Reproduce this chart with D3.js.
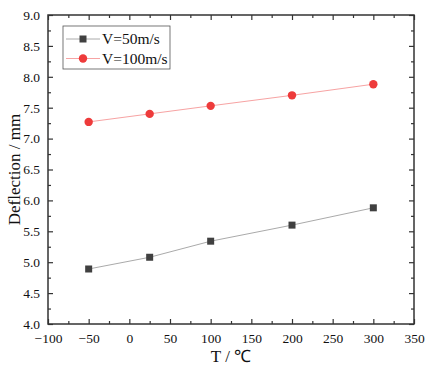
<!DOCTYPE html>
<html><head><meta charset="utf-8">
<script src="https://cdn.jsdelivr.net/npm/d3@7"></script>
<style>body{margin:0;background:#fff}svg{display:block}text{font-family:"Liberation Serif","Times New Roman",serif}</style>
</head><body>
<script>
const temps = [-50, 25, 100, 200, 300];
const v50 = [4.89, 5.08, 5.34, 5.60, 5.88];
const v100 = [7.27, 7.40, 7.53, 7.70, 7.88];
const seriesNames = ["V=50m/s", "V=100m/s"];
const xTicks = [-100, -50, 0, 50, 100, 150, 200, 250, 300, 350];
const yTicks = [4.0, 4.5, 5.0, 5.5, 6.0, 6.5, 7.0, 7.5, 8.0, 8.5, 9.0];

const W = 425, H = 373;
const m = {l: 48, r: 11, t: 15, b: 49};
const svg = d3.select("body").append("svg").attr("width", W).attr("height", H);
const x = d3.scaleLinear().domain([-100, 350]).range([m.l, W - m.r]);
const y = d3.scaleLinear().domain([4, 9]).range([H - m.b, m.t]);
const axCol = "#333";
const serif = '"Liberation Serif","Times New Roman",serif';

const xMinor = d3.range(-75, 350, 50);
const yMinor = d3.range(4.25, 9, 0.5);

function styleAxis(g){
  g.attr("font-family", serif);
  g.selectAll(".domain").remove();
  g.selectAll(".tick line").attr("stroke", axCol).attr("stroke-width", 1.2);
  g.selectAll("text").attr("fill", "#111").style("font-size", "13.5px").style("font-family", serif);
}
// bottom
svg.append("g").attr("transform", `translate(0,${y(4)})`)
  .call(d3.axisBottom(x).tickValues(xTicks).tickSize(-5).tickPadding(9).tickFormat(d3.format("d")))
  .call(styleAxis);
svg.append("g").attr("transform", `translate(0,${y(4)})`)
  .call(d3.axisBottom(x).tickValues(xMinor).tickSize(-3).tickFormat(""))
  .call(styleAxis);
// top
svg.append("g").attr("transform", `translate(0,${y(9)})`)
  .call(d3.axisTop(x).tickValues(xTicks).tickSize(-5).tickFormat(""))
  .call(styleAxis);
svg.append("g").attr("transform", `translate(0,${y(9)})`)
  .call(d3.axisTop(x).tickValues(xMinor).tickSize(-3).tickFormat(""))
  .call(styleAxis);
// left
svg.append("g").attr("transform", `translate(${x(-100)},0)`)
  .call(d3.axisLeft(y).tickValues(yTicks).tickSize(-5).tickPadding(8).tickFormat(d3.format(".1f")))
  .call(styleAxis);
svg.append("g").attr("transform", `translate(${x(-100)},0)`)
  .call(d3.axisLeft(y).tickValues(yMinor).tickSize(-3).tickFormat(""))
  .call(styleAxis);
// right
svg.append("g").attr("transform", `translate(${x(350)},0)`)
  .call(d3.axisRight(y).tickValues(yTicks).tickSize(-5).tickFormat(""))
  .call(styleAxis);
svg.append("g").attr("transform", `translate(${x(350)},0)`)
  .call(d3.axisRight(y).tickValues(yMinor).tickSize(-3).tickFormat(""))
  .call(styleAxis);

// frame
svg.append("rect").attr("x", x(-100)).attr("y", y(9))
  .attr("width", x(350) - x(-100)).attr("height", y(4) - y(9))
  .attr("fill", "none").attr("stroke", axCol).attr("stroke-width", 1.5);

const line = d3.line().x((d, i) => x(temps[i])).y(d => y(d));
svg.append("path").datum(v50).attr("d", line).attr("fill", "none").attr("stroke", "#aaaaaa").attr("stroke-width", 1);
svg.append("path").datum(v100).attr("d", line).attr("fill", "none").attr("stroke", "#f7a3a3").attr("stroke-width", 1);

svg.selectAll(".sq").data(v50).enter().append("rect")
  .attr("x", (d, i) => x(temps[i]) - 3.5).attr("y", d => y(d) - 3.5)
  .attr("width", 7).attr("height", 7).attr("fill", "#404040");
svg.selectAll(".ci").data(v100).enter().append("circle")
  .attr("cx", (d, i) => x(temps[i])).attr("cy", d => y(d)).attr("r", 4.2).attr("fill", "#ee3b3b");

// legend
const lg = svg.append("g");
lg.append("rect").attr("x", 63).attr("y", 26).attr("width", 107).attr("height", 43)
  .attr("fill", "#fff").attr("stroke", "#555").attr("stroke-width", 0.8);
const rows = [39, 58.5];
lg.append("line").attr("x1", 66).attr("x2", 100).attr("y1", rows[0]).attr("y2", rows[0]).attr("stroke", "#aaaaaa");
lg.append("rect").attr("x", 83 - 3.5).attr("y", rows[0] - 3.5).attr("width", 7).attr("height", 7).attr("fill", "#404040");
lg.append("line").attr("x1", 66).attr("x2", 100).attr("y1", rows[1]).attr("y2", rows[1]).attr("stroke", "#f7a3a3");
lg.append("circle").attr("cx", 83).attr("cy", rows[1]).attr("r", 4.2).attr("fill", "#ee3b3b");
seriesNames.forEach((s, i) => {
  lg.append("text").attr("x", 102).attr("y", rows[i]).attr("dy", "0.35em")
    .style("font-size", "15.5px").attr("fill", "#111").text(s);
});

// titles
svg.append("text").attr("x", (x(-100) + x(350)) / 2).attr("y", 362)
  .attr("text-anchor", "middle").style("font-size", "17px").attr("fill", "#111").text("T / ℃");
svg.append("text").attr("transform", `translate(20,${(y(4) + y(9)) / 2}) rotate(-90)`)
  .attr("text-anchor", "middle").style("font-size", "17px").attr("fill", "#111").text("Deflection / mm");
</script>
</body></html>
